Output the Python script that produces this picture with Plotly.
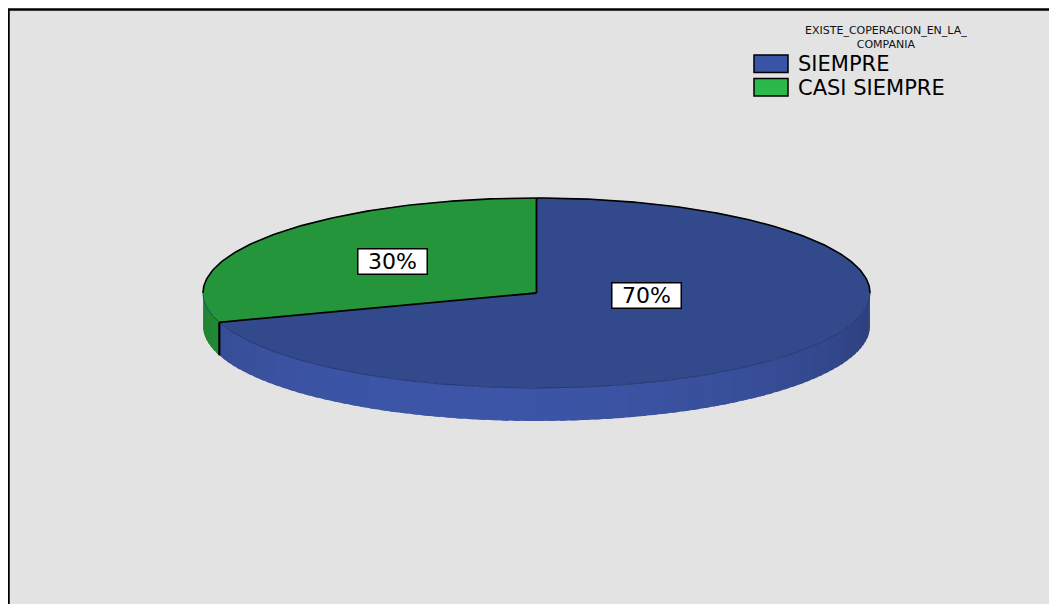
import numpy as np
import plotly.graph_objects as go

# ---------------- data ----------------
categories = ["SIEMPRE", "CASI SIEMPRE"]
values = [70, 30]
pct_labels = ["70%", "30%"]
legend_title_lines = ["EXISTE_COPERACION_EN_LA_", "COMPANIA"]

# ---------------- styles ----------------
top_colors = [(50, 73, 139), (37, 149, 60)]
side_colors = [(60, 84, 164), (37, 150, 60)]
legend_colors = ["#3a54a8", "#2cb84b"]
FONT = "DejaVu Sans"
W, H = 1057, 604
OFF = 8  # page body margin
CX, CY = 536.5, 293.0
RX, RY = 333.5, 95.0
DEPTH = 33.0
START = 90.0


def rim(theta, dy=0.0):
    t = np.radians(theta)
    return CX + RX * np.cos(t), CY - RY * np.sin(t) + dy


def shade(rgb, theta):
    f = 0.80 + 0.22 * np.cos(np.radians(theta - 255))
    r, g, b = (int(max(0, min(255, c * f))) for c in rgb)
    return f"rgb({r},{g},{b})"


total = sum(values)
spans = [360.0 * v / total for v in values]
starts, ends = [], []
acc = START
for s in spans:
    starts.append(acc)
    ends.append(acc - s)
    acc -= s

fig = go.Figure()

# ---- side walls (front half only) ----
for i in range(len(values)):
    for k in (-360, 0, 360):
        lo = max(ends[i] + k, 180.0)
        hi = min(starts[i] + k, 360.0)
        if hi <= lo:
            continue
        n = max(2, int(np.ceil((hi - lo) / 2.0)))
        edges = np.linspace(lo, hi, n + 1)
        for a, b in zip(edges[:-1], edges[1:]):
            b2 = min(hi, b + 1.2)  # overlap to hide seams
            th = np.linspace(a, b2, 4)
            xt, yt = rim(th)
            xb, yb = rim(th[::-1], DEPTH)
            col = shade(side_colors[i], (a + b) / 2)
            fig.add_trace(go.Scatter(
                x=np.concatenate([xt, xb]), y=np.concatenate([yt, yb]),
                mode="lines", fill="toself", fillcolor=col,
                line=dict(width=0),
                hoverinfo="skip", showlegend=False))

# ---- top faces ----
for i in range(len(values)):
    th = np.linspace(starts[i], ends[i], 240)
    xs, ys = rim(th)
    x = np.concatenate([[CX], xs, [CX]])
    y = np.concatenate([[CY], ys, [CY]])
    col = "rgb(%d,%d,%d)" % top_colors[i]
    fig.add_trace(go.Scatter(
        x=x, y=y, mode="lines", fill="toself", fillcolor=col,
        line=dict(color=col, width=0.5),
        hoverinfo="skip", showlegend=False, name=categories[i]))

# subtle front rim line
th = np.linspace(180, 360, 240)
xs, ys = rim(th)
fig.add_trace(go.Scatter(x=xs, y=ys, mode="lines",
                         line=dict(color="rgb(34,52,104)", width=0.8),
                         hoverinfo="skip", showlegend=False))

# back rim outline
th = np.linspace(0, 180, 240)
xs, ys = rim(th)
fig.add_trace(go.Scatter(x=xs, y=ys, mode="lines",
                         line=dict(color="black", width=1.6),
                         hoverinfo="skip", showlegend=False))

# radial edges and vertical seams
for a in starts:
    xe, ye = rim(a)
    fig.add_trace(go.Scatter(x=[CX, xe], y=[CY, ye], mode="lines",
                             line=dict(color="black", width=1.8),
                             hoverinfo="skip", showlegend=False))
    am = a % 360
    if 180 < am < 360:
        x0, y0 = rim(am)
        x1, y1 = rim(am, DEPTH)
        fig.add_trace(go.Scatter(x=[x0, x1], y=[y0, y1], mode="lines",
                                 line=dict(color="black", width=2.2),
                                 hoverinfo="skip", showlegend=False))

# ---- percentage labels ----
annotations = []
for i in range(len(values)):
    mid = (starts[i] + ends[i]) / 2
    lx = CX - 17 + 0.47 * RX * np.cos(np.radians(mid))
    ly = CY - 14.5 - 0.296 * RY * np.sin(np.radians(mid))
    annotations.append(dict(
        x=lx, y=ly, xref="x", yref="y", text=pct_labels[i], showarrow=False,
        font=dict(family=FONT, size=22, color="black"),
        bgcolor="white", bordercolor="black", borderwidth=1.5, borderpad=0,
        width=68, height=24, align="center", valign="middle"))

# ---- frame & legend ----
shapes = [dict(type="rect", xref="x", yref="y", x0=8.5, y0=9.5, x1=1100, y1=700,
               fillcolor="#e3e3e3", line=dict(color="black", width=2.5), layer="below")]
annotations.append(dict(x=886, y=37, xref="x", yref="y",
                        text="<br>".join(legend_title_lines), showarrow=False,
                        font=dict(family=FONT, size=11, color="#111"), align="center"))
for i, cat in enumerate(categories):
    y0 = 55 + i * 23.5
    shapes.append(dict(type="rect", xref="x", yref="y", x0=754, x1=788, y0=y0, y1=y0 + 17.5,
                       fillcolor=legend_colors[i], line=dict(color="black", width=1.5)))
    annotations.append(dict(x=796, y=y0 + 9, xref="x", yref="y", text=cat, xanchor="left",
                            showarrow=False, font=dict(family=FONT, size=21, color="black")))

fig.update_layout(
    width=W, height=H, margin=dict(l=0, r=0, t=0, b=0),
    paper_bgcolor="white", plot_bgcolor="rgba(0,0,0,0)",
    xaxis=dict(range=[OFF, W + OFF], visible=False, fixedrange=True),
    yaxis=dict(range=[H + OFF, OFF], visible=False, fixedrange=True),
    shapes=shapes, annotations=annotations, showlegend=False,
)

fig.write_html("out.html")
